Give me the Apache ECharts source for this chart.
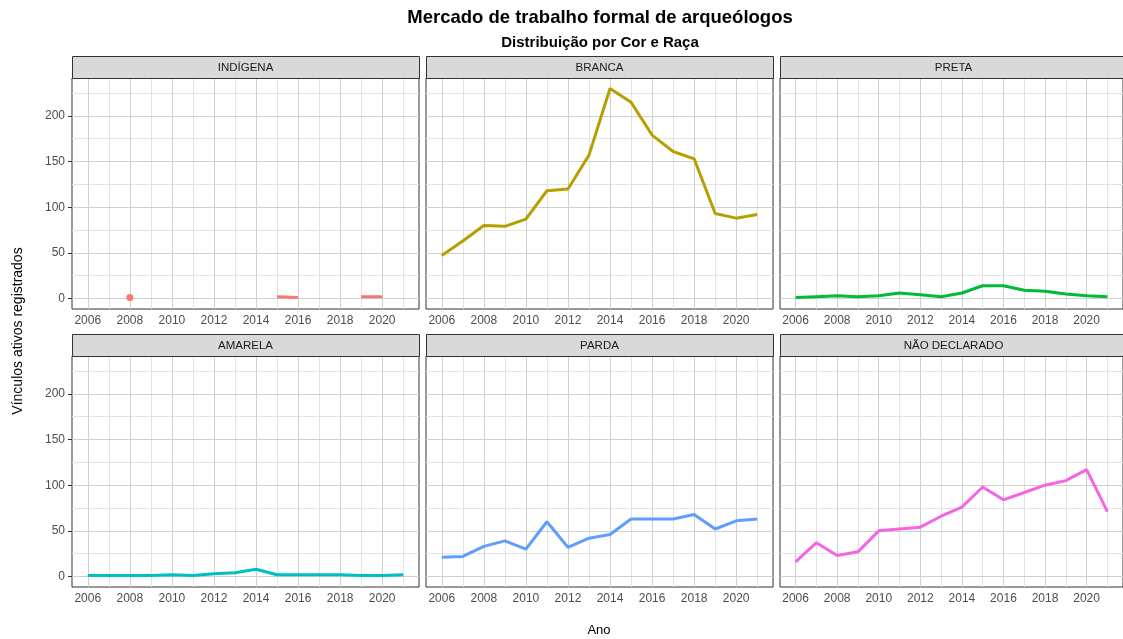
<!DOCTYPE html>
<html>
<head>
<meta charset="utf-8">
<script src="https://cdn.jsdelivr.net/npm/echarts@6/dist/echarts.min.js"></script>
<style>
html,body{margin:0;padding:0;background:#fff;}
#chart{width:1123px;height:639px;}
</style>
</head>
<body>
<div id="chart"></div>
<script>
// ---- data ----
const years = [2006,2007,2008,2009,2010,2011,2012,2013,2014,2015,2016,2017,2018,2019,2020,2021];
const panelNames = ['INDÍGENA','BRANCA','PRETA','AMARELA','PARDA','NÃO DECLARADO'];
const indigena = [null,null,1,null,null,null,null,null,null,2,1,null,null,2,2,null];
const branca = [47,63,80,79,87,118,120,157,230,215,179,161,153,93,88,92];
const preta = [1,2,3,2,3,6,4,2,6,14,14,9,8,5,3,2];
const amarela = [1,1,1,1,2,1,3,4,8,2,2,2,2,1,1,2];
const parda = [21,22,33,39,30,60,32,42,46,63,63,63,68,52,61,63];
const naoDeclarado = [16,37,23,27,50,52,54,66,76,98,84,92,100,105,117,71];
const seriesValues = [indigena, branca, preta, amarela, parda, naoDeclarado];
const colors = ['#F8766D','#B79F00','#00BA38','#00BFC4','#619CFF','#F564E3'];
const xTicks = [2006,2008,2010,2012,2014,2016,2018,2020];
const xMinor = [2007,2009,2011,2013,2015,2017,2019,2021];
const yTicks = [0,50,100,150,200];
const yMinor = [25,75,125,175,225];

// ---- layout ----
const panelW = 347, panelH = 231, gapX = 7, stripH = 22;
const lefts = [72, 72 + panelW + gapX, 72 + 2 * (panelW + gapX)];
const tops = [78, 356];
const font = '"Liberation Sans", Arial, sans-serif';

const grids = [], xAxes = [], yAxes = [], series = [], graphics = [];

panelNames.forEach((name, i) => {
  const col = i % 3, row = Math.floor(i / 3);
  const left = lefts[col], top = tops[row];
  grids.push({
    left: left, top: top, width: panelW, height: panelH,
    show: true, backgroundColor: '#fff', borderColor: '#333333', borderWidth: 1,
    containLabel: false
  });
  xAxes.push({
    type: 'value', gridIndex: i, min: 2005.25, max: 2021.75,
    splitLine: {show: false},
    axisLine: {show: false},
    axisTick: {show: true, customValues: xTicks, length: 4, lineStyle: {color: '#333333', width: 1}},
    axisLabel: {customValues: xTicks, color: '#4d4d4d', fontSize: 12, fontFamily: font, margin: 6,
      formatter: v => String(v)}
  });
  yAxes.push({
    type: 'value', gridIndex: i, min: -11.5, max: 241.5,
    splitLine: {show: false},
    axisLine: {show: false},
    axisTick: {show: col === 0, customValues: yTicks, length: 4, lineStyle: {color: '#333333', width: 1}},
    axisLabel: {show: col === 0, customValues: yTicks, color: '#4d4d4d', fontSize: 12, fontFamily: font, margin: 7,
      formatter: v => String(v)}
  });
  // grid lines
  const gl = [];
  yMinor.forEach(v => gl.push({yAxis: v, lineStyle: {color: '#e3e3e3', width: 1, type: 'solid'}}));
  xMinor.forEach(v => gl.push({xAxis: v, lineStyle: {color: '#e3e3e3', width: 1, type: 'solid'}}));
  yTicks.forEach(v => gl.push({yAxis: v, lineStyle: {color: '#cfcfcf', width: 1, type: 'solid'}}));
  xTicks.forEach(v => gl.push({xAxis: v, lineStyle: {color: '#cfcfcf', width: 1, type: 'solid'}}));
  series.push({
    type: 'line', xAxisIndex: i, yAxisIndex: i, data: [], z: 1, silent: true,
    markLine: {z: 1, zlevel: 0, silent: true, symbol: ['none', 'none'], label: {show: false}, animation: false, data: gl}
  });
  const vals = seriesValues[i];
  series.push({
    type: 'line', xAxisIndex: i, yAxisIndex: i, z: 6,
    data: years.map((y, j) => [y, vals[j]]),
    showSymbol: false, connectNulls: false,
    lineStyle: {color: colors[i], width: 3},
    itemStyle: {color: colors[i]},
    animation: false
  });
  // isolated points (no neighbours)
  const iso = [];
  vals.forEach((v, j) => {
    if (v !== null && (j === 0 || vals[j - 1] === null) && (j === vals.length - 1 || vals[j + 1] === null)) iso.push([years[j], v]);
  });
  if (iso.length) {
    series.push({
      type: 'scatter', xAxisIndex: i, yAxisIndex: i, z: 7, data: iso,
      symbolSize: 7, itemStyle: {color: colors[i], opacity: 1}, animation: false
    });
  }
  // strip
  graphics.push({
    type: 'rect', shape: {x: left + 0.5, y: top - stripH + 0.5, width: panelW, height: stripH},
    style: {fill: '#d9d9d9', stroke: '#333333', lineWidth: 1}, z: 10
  });
  graphics.push({
    type: 'text', x: left + panelW / 2, y: top - stripH / 2 + 1, z: 11,
    style: {text: name, font: '11.5px ' + font, fill: '#1a1a1a', align: 'center', verticalAlign: 'middle',
      textAlign: 'center', textVerticalAlign: 'middle'}
  });
});

graphics.push({
  type: 'text', x: 600, y: 18, z: 11,
  style: {text: 'Mercado de trabalho formal de arqueólogos', font: 'bold 18.5px ' + font, fill: '#000',
    align: 'center', verticalAlign: 'middle', textAlign: 'center', textVerticalAlign: 'middle'}
});
graphics.push({
  type: 'text', x: 600, y: 43, z: 11,
  style: {text: 'Distribuição por Cor e Raça', font: 'bold 15px ' + font, fill: '#000',
    align: 'center', verticalAlign: 'middle', textAlign: 'center', textVerticalAlign: 'middle'}
});
graphics.push({
  type: 'text', x: 599, y: 630, z: 11,
  style: {text: 'Ano', font: '13px ' + font, fill: '#000',
    align: 'center', verticalAlign: 'middle', textAlign: 'center', textVerticalAlign: 'middle'}
});
graphics.push({
  type: 'text', x: 18, y: 331, z: 11, rotation: Math.PI / 2,
  style: {text: 'Vínculos ativos registrados', font: '14px ' + font, fill: '#000',
    align: 'center', verticalAlign: 'middle', textAlign: 'center', textVerticalAlign: 'middle'}
});

const chart = echarts.init(document.getElementById('chart'), null, {renderer: 'canvas'});
chart.setOption({
  animation: false,
  backgroundColor: '#ffffff',
  grid: grids,
  xAxis: xAxes,
  yAxis: yAxes,
  series: series,
  graphic: graphics
});
</script>
</body>
</html>
